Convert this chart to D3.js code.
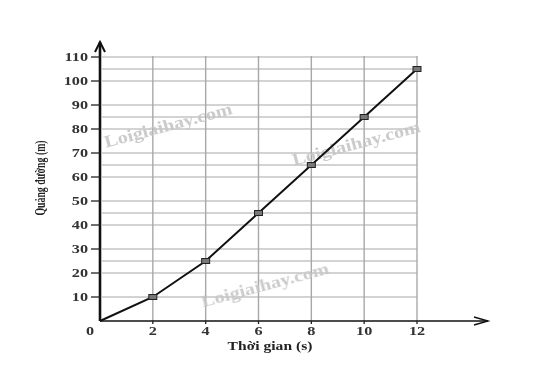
<!DOCTYPE html>
<html><head><meta charset="utf-8">
<script src="https://cdn.jsdelivr.net/npm/d3@7"></script>
<style>body{margin:0;background:#fff}svg{display:block}</style>
</head><body>
<script>
const times = [0, 2, 4, 6, 8, 10, 12];
const distances = [0, 10, 25, 45, 65, 85, 105];
const yTicks = [10, 20, 30, 40, 50, 60, 70, 80, 90, 100, 110];
const xTicks = [2, 4, 6, 8, 10, 12];
const xTitle = "Thời gian (s)";
const yTitle = "Quảng đường (m)";
const watermark = "Loigiaihay.com";

const W = 537, H = 368;
const svg = d3.select("body").append("svg").attr("width", W).attr("height", H);
const x = d3.scaleLinear().domain([0, 12]).range([100, 417]);
const y = d3.scaleLinear().domain([0, 110]).range([321, 57]);
const font = "'Liberation Serif','Times New Roman',serif";
const gridC = "#a8a8a8";

function stext(g, px, py, str, opts) {
  const o = Object.assign({size: 13, sx: 1.25, sy: 0.92, anchor: "middle", rot: 0, fill: "#2a2a2a", dy: "0.35em"}, opts || {});
  return g.append("text")
    .attr("transform", `translate(${px},${py}) rotate(${o.rot}) scale(${o.sx},${o.sy})`)
    .attr("text-anchor", o.anchor).attr("dy", o.dy)
    .attr("font-family", font).attr("font-weight", "bold").attr("font-size", o.size)
    .attr("fill", o.fill).text(str);
}

// grid
const hVals = Array.from(new Set(yTicks.concat(distances.filter(d => d % 10 !== 0 && d > 0)))).sort((a,b)=>a-b);
svg.append("g").selectAll("line").data(hVals).join("line")
  .attr("x1", x(0) + 2).attr("x2", x(12)).attr("y1", d => y(d)).attr("y2", d => y(d))
  .attr("stroke", gridC).attr("stroke-width", 1.1);
svg.append("g").selectAll("line").data(xTicks).join("line")
  .attr("x1", d => x(d)).attr("x2", d => x(d)).attr("y1", y(0)).attr("y2", y(110) - 1)
  .attr("stroke", gridC).attr("stroke-width", 1.4);

// watermarks
const wm = [[168, 125], [356, 143], [265, 285]];
const gw = svg.append("g").attr("opacity", 0.9);
wm.forEach(d => stext(gw, d[0], d[1], watermark, {size: 18, sx: 1.12, sy: 0.95, rot: -15, fill: "#c6c6c6"}));

// axes
const ax = svg.append("g").attr("stroke", "#111").attr("fill", "none");
ax.append("line").attr("x1", x(0)).attr("x2", x(0)).attr("y1", y(0)).attr("y2", 42).attr("stroke-width", 2.6);
ax.append("path").attr("d", `M${x(0)-5},52 L${x(0)},42 L${x(0)+5},52`).attr("stroke-width", 2);
ax.append("line").attr("x1", x(0)).attr("x2", 488).attr("y1", y(0)).attr("y2", y(0)).attr("stroke-width", 1.6);
ax.append("path").attr("d", `M474,${y(0)-4} L488,${y(0)} L474,${y(0)+4}`).attr("stroke-width", 1.4);

// y ticks
const gy = svg.append("g");
gy.selectAll("line").data(yTicks).join("line")
  .attr("x1", x(0) - 9).attr("x2", x(0)).attr("y1", d => y(d)).attr("y2", d => y(d))
  .attr("stroke", "#222").attr("stroke-width", 1.3);
yTicks.forEach(v => stext(gy, x(0) - 12, y(v), d3.format("d")(v), {anchor: "end", fill: "#333"}));

// x ticks
const gx = svg.append("g");
gx.selectAll("line").data(xTicks).join("line")
  .attr("x1", d => x(d)).attr("x2", d => x(d)).attr("y1", y(0)).attr("y2", y(0) + 3)
  .attr("stroke", "#222").attr("stroke-width", 1.3);
xTicks.forEach(v => stext(gx, x(v), 331, d3.format("d")(v), {fill: "#333"}));
stext(gx, 90, 331, "0", {fill: "#333"});

// titles
stext(svg, 270, 346, xTitle, {size: 13, sx: 1.2, sy: 0.92, fill: "#222"});
stext(svg, 40, 178, yTitle, {size: 12, sx: 0.82, sy: 1.25, rot: -90, fill: "#222"});

// line
const line = d3.line().x((d, i) => x(times[i])).y(d => y(d));
svg.append("path").datum(distances).attr("d", line).attr("fill", "none")
  .attr("stroke", "#111").attr("stroke-width", 2);

// markers
svg.append("g").selectAll("rect").data(distances.slice(1)).join("rect")
  .attr("x", (d, i) => x(times[i + 1]) - 4).attr("y", d => y(d) - 2.5)
  .attr("width", 8).attr("height", 5)
  .attr("fill", "#777").attr("stroke", "#222").attr("stroke-width", 1);
</script>
</body></html>
